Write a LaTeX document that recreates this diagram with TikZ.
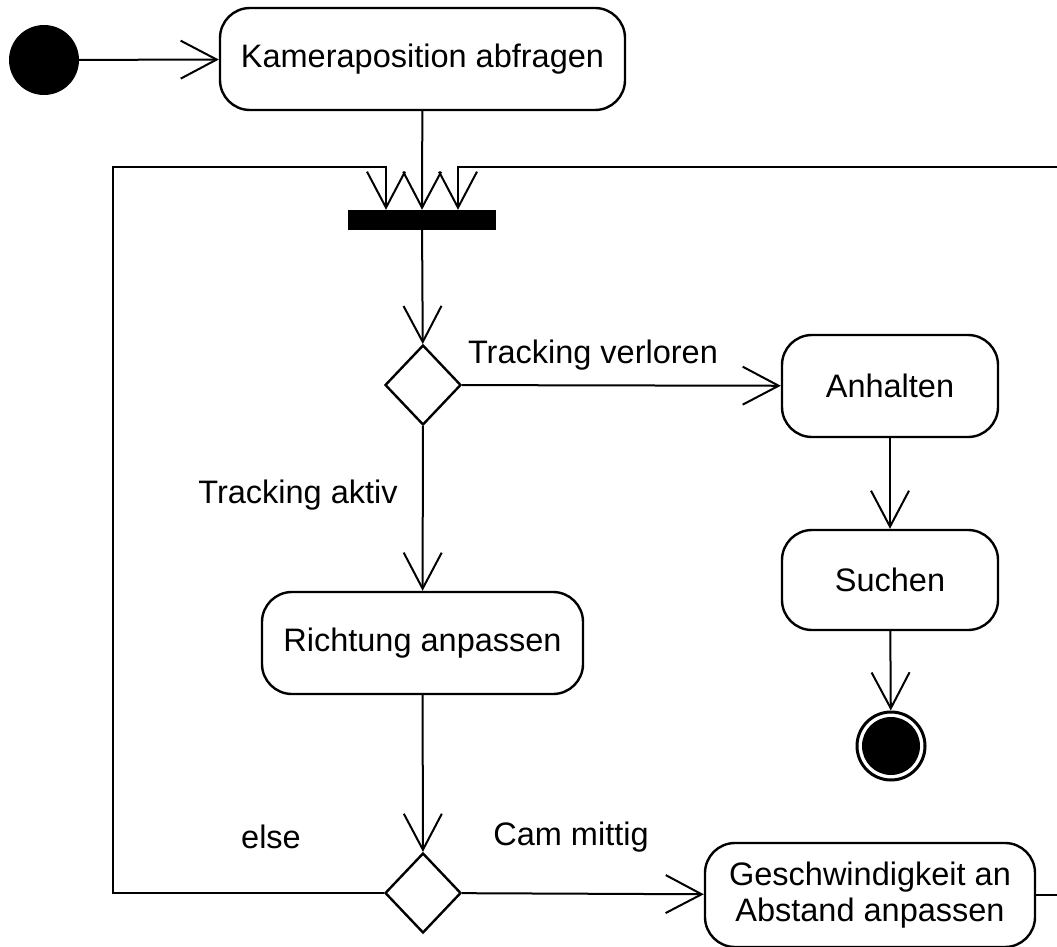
\documentclass[tikz,border=0pt]{standalone}
\usepackage{fontspec}
\setmainfont{Liberation Sans}
\usetikzlibrary{arrows.meta,shapes.geometric}

\begin{document}
\begin{tikzpicture}[x=1pt,y=-1pt,
  every node/.style={font=\fontsize{32.5}{36}\selectfont},
  act/.style={draw,line width=2.4pt,rounded corners=30pt,inner sep=0pt,align=center},
  decide/.style={draw,diamond,line width=2.4pt,minimum width=76pt,minimum height=80pt,inner sep=0pt},
  flow/.style={line width=2pt,-{Straight Barb[length=36pt,width=38pt]}}]
  \useasboundingbox (0,0) rectangle (1057,947);
  \clip (0,0) rectangle (1057,947);
  % nodes
  \node[circle,fill,minimum size=70pt,inner sep=0pt] (start) at (44,60) {};
  \node[act,minimum width=405pt,minimum height=102pt] (kam) at (422.5,59) {Kameraposition abfragen};
  \node[fill,minimum width=148pt,minimum height=20pt,inner sep=0pt] (bar) at (422,220) {};
  \node[decide] (dec1) at (423,385) {};
  \node[act,minimum width=216pt,minimum height=102pt] (halt) at (890,386) {Anhalten};
  \node[act,minimum width=216pt,minimum height=100pt] (such) at (890,580) {Suchen};
  \node[circle,draw,line width=3pt,minimum size=68pt,inner sep=0pt] (stop) at (891,746) {};
  \fill (stop.center) circle (29);
  \node[act,minimum width=321pt,minimum height=102pt] (richt) at (422.5,643) {Richtung anpassen};
  \node[decide] (dec2) at (423,893) {};
  \node[act,minimum width=330pt,minimum height=104pt] (speed) at (870,895) {Geschwindigkeit an\\Abstand anpassen};
  % labels
  \node (lost) at (593,355) {Tracking verloren};
  \node (aktiv) at (298,495) {Tracking aktiv};
  \node (else) at (271,837) {else};
  \node (mittig) at (571,837) {Cam mittig};
  % loop corners
  \coordinate (loopL) at (113,167);
  \coordinate (loopR) at (1080,167);
  % edges
  \draw[flow] (start) -- (kam);
  \draw[flow] (kam) -- (bar);
  \draw[flow] (bar) -- (dec1);
  \draw[flow] (dec1) -- (halt);
  \draw[flow] (halt) -- (such);
  \draw[flow] (such) -- (stop);
  \draw[flow] (dec1) -- (richt);
  \draw[flow] (richt) -- (dec2);
  \draw[flow] (dec2) -- (speed);
  \draw[flow] (dec2.west) -| (loopL) -| ([xshift=-36pt]bar.north);
  \draw[flow] (speed.east) -| (loopR) -| ([xshift=36pt]bar.north);
\end{tikzpicture}
\end{document}
